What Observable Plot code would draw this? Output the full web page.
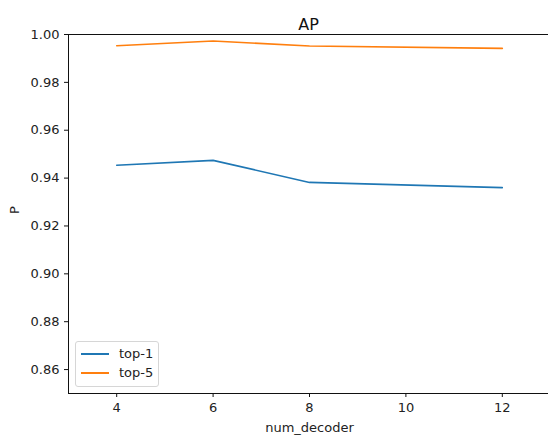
<!DOCTYPE html>
<html><head><meta charset="utf-8">
<script src="https://cdn.jsdelivr.net/npm/d3@7"></script>
<script src="https://cdn.jsdelivr.net/npm/@observablehq/plot@0.6"></script>
<style>
body{margin:0;background:#fff;}
#wrap{position:relative;width:548px;height:438px;overflow:hidden;font-family:"DejaVu Sans",sans-serif;}
#legend{position:absolute;left:75px;top:341px;width:84px;height:46px;border:1px solid #d6d6d6;border-radius:3px;background:rgba(255,255,255,0.8);box-sizing:border-box;font-size:13px;color:#222;}
.li{position:absolute;left:5px;display:flex;align-items:center;}
.li span.sw{display:inline-block;width:28px;height:2px;margin-right:10px;}
</style>
</head><body><div id="wrap"></div>
<script>
const numDecoder = [4, 6, 8, 12];
const top1 = [0.9454, 0.9474, 0.9382, 0.936];
const top5 = [0.9953, 0.9973, 0.9952, 0.9942];
const seriesNames = ["top-1", "top-5"];
const seriesColors = ["#1f77b4", "#ff7f0e"];
const xTicks = [4, 6, 8, 10, 12];
const yTicks = [0.86, 0.88, 0.90, 0.92, 0.94, 0.96, 0.98, 1.00];
const title = "AP";
const xLabel = "num_decoder";
const yLabel = "P";

const data = [];
numDecoder.forEach((x, i) => { data.push({x, y: top1[i], s: seriesNames[0]}); });
numDecoder.forEach((x, i) => { data.push({x, y: top5[i], s: seriesNames[1]}); });

const chart = Plot.plot({
  width: 548, height: 438,
  marginTop: 34, marginBottom: 45, marginLeft: 68, marginRight: -2,
  style: {fontFamily: "DejaVu Sans, sans-serif", fontSize: "13px", color: "#222", background: "#fff"},
  x: {domain: [3, 13], ticks: xTicks, tickSize: 4, tickPadding: 3, label: null, tickFormat: d => String(d)},
  y: {domain: [0.85, 1.0], ticks: yTicks, tickSize: 4, tickPadding: 3, label: null, tickFormat: d3.format(".2f")},
  color: {domain: seriesNames, range: seriesColors},
  marks: [
    Plot.line(data, {x: "x", y: "y", z: "s", stroke: "s", strokeWidth: 1.6}),
    Plot.ruleY([0.85, 1.0], {stroke: "#111", strokeWidth: 1}),
    Plot.ruleX([3, 13], {stroke: "#111", strokeWidth: 1}),
    Plot.axisX({ticks: xTicks, tickSize: 4, tickFormat: d => String(d), label: null, stroke: "#111"}),
    Plot.axisY({ticks: yTicks, tickSize: 4, tickFormat: d3.format(".2f"), label: null, stroke: "#111"}),
    Plot.text([title], {frameAnchor: "top", dy: -16, fontSize: 16, fill: "#111", dx: -1}),
    Plot.text([xLabel], {frameAnchor: "bottom", dy: 38, dx: 0, fontSize: 13, fill: "#222", textAnchor: "middle"}),
    Plot.text([yLabel], {frameAnchor: "left", dx: -54, rotate: -90, fontSize: 13, fill: "#222"})
  ]
});
const wrap = document.getElementById("wrap");
wrap.appendChild(chart);
const lg = document.createElement("div");
lg.id = "legend";
seriesNames.forEach((n, i) => {
  const d = document.createElement("div");
  d.className = "li";
  d.style.top = (4 + i * 19) + "px";
  d.innerHTML = `<span class="sw" style="background:${seriesColors[i]}"></span><span>${n}</span>`;
  lg.appendChild(d);
});
wrap.appendChild(lg);
</script></body></html>
